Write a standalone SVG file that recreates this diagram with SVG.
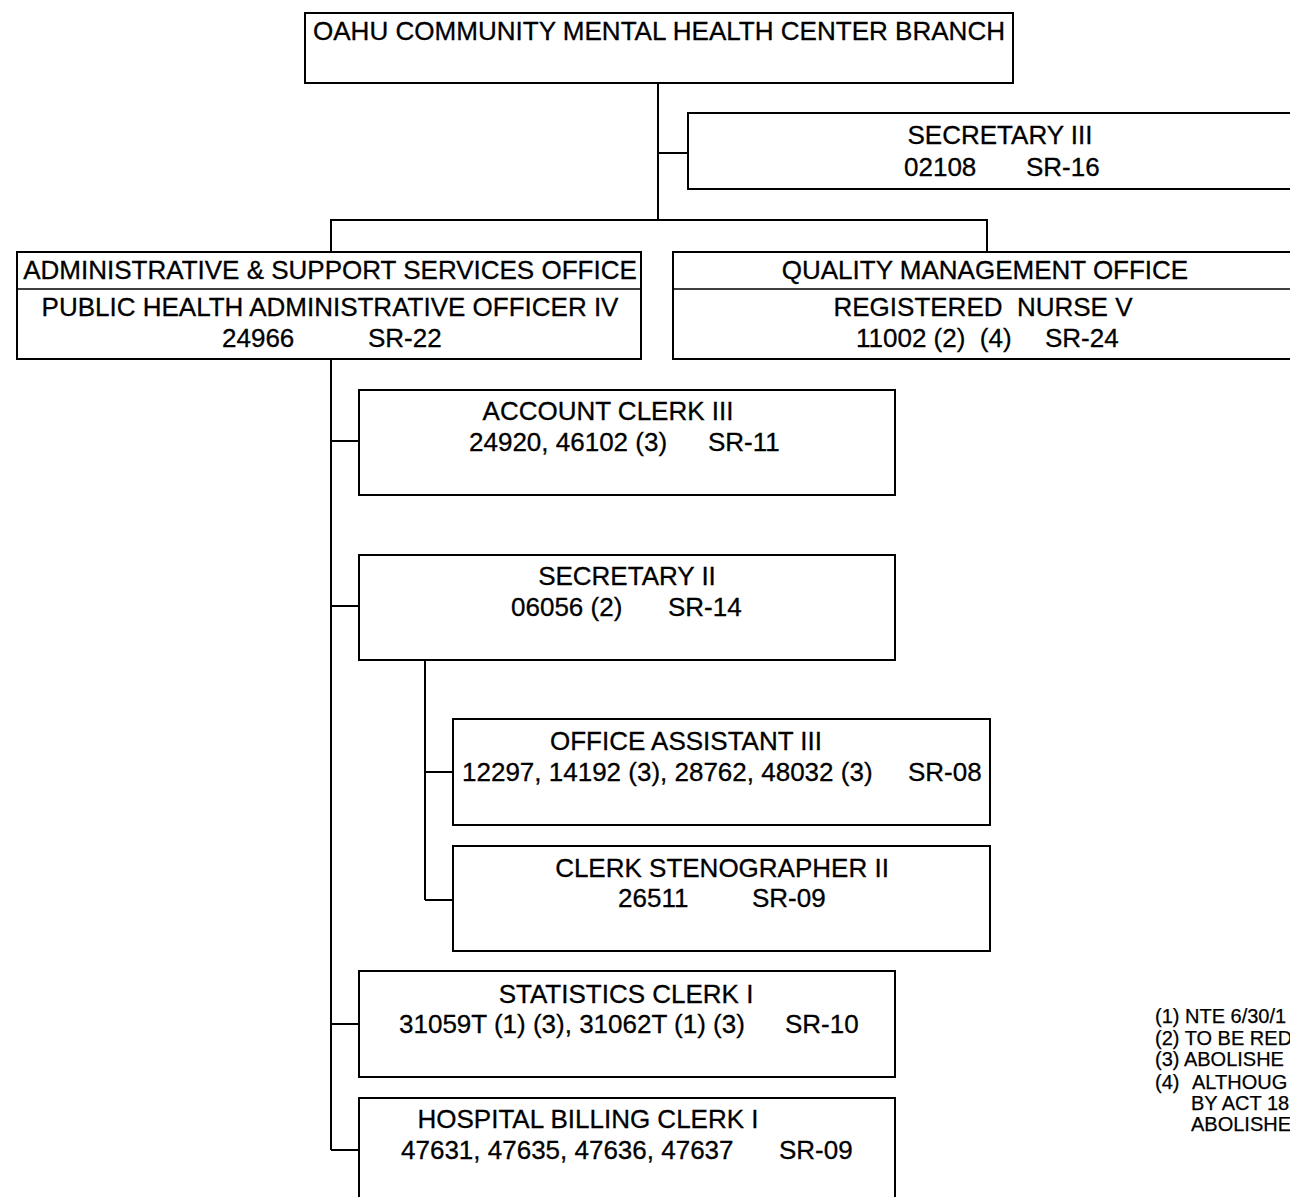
<svg xmlns="http://www.w3.org/2000/svg" width="1290" height="1197" viewBox="0 0 1290 1197">
  <style>
    .box { fill: #ffffff; stroke: #000000; stroke-width: 2; }
    .div { stroke: #000000; stroke-width: 1.5; }
    .wire { fill: none; stroke: #000000; stroke-width: 2; }
    text { font-family: "Liberation Sans", Arial, sans-serif; font-size: 26px; fill: #000000; stroke: #000000; stroke-width: 0.3; }
    .c { text-anchor: middle; }
    .note { font-size: 20px; stroke-width: 0.25; }
  </style>
  <rect width="1290" height="1197" fill="#ffffff"/>

  <!-- reporting lines -->
  <g id="connectors">
    <path class="wire" d="M658,83 V220 M658,153 H688"/>
    <path class="wire" d="M331,252 V220 H987 V252"/>
    <path class="wire" d="M331,359 V1150 M331,441 H359 M331,606 H359 M331,1024 H359 M331,1150 H359"/>
    <path class="wire" d="M425,660 V900 M425,772 H453 M425,900 H453"/>
  </g>

  <g id="branch">
    <rect class="box" x="305" y="13" width="708" height="70"/>
    <text x="313" y="40" textLength="692" lengthAdjust="spacingAndGlyphs">OAHU COMMUNITY MENTAL HEALTH CENTER BRANCH</text>
  </g>

  <g id="secretary-iii">
    <rect class="box" x="688" y="113" width="620" height="76"/>
    <text class="c" x="1000" y="144">SECRETARY III</text>
    <text x="904" y="176">02108</text>
    <text x="1026" y="176">SR-16</text>
  </g>

  <g id="admin-office">
    <rect class="box" x="17" y="252" width="624" height="107"/>
    <line class="div" x1="17" y1="289" x2="641" y2="289"/>
    <text class="c" x="330" y="279">ADMINISTRATIVE &amp; SUPPORT SERVICES OFFICE</text>
    <text class="c" x="330" y="316">PUBLIC HEALTH ADMINISTRATIVE OFFICER IV</text>
    <text x="222" y="347">24966</text>
    <text x="368" y="347">SR-22</text>
  </g>

  <g id="quality-office">
    <rect class="box" x="673" y="252" width="635" height="107"/>
    <line class="div" x1="673" y1="289" x2="1300" y2="289"/>
    <text class="c" x="985" y="279">QUALITY MANAGEMENT OFFICE</text>
    <text class="c" x="983" y="316" xml:space="preserve">REGISTERED  NURSE V</text>
    <text x="856" y="347" xml:space="preserve">11002 (2)  (4)</text>
    <text x="1045" y="347">SR-24</text>
  </g>

  <g id="account-clerk">
    <rect class="box" x="359" y="390" width="536" height="105"/>
    <text class="c" x="608" y="420">ACCOUNT CLERK III</text>
    <text x="469" y="451">24920, 46102 (3)</text>
    <text x="708" y="451">SR-11</text>
  </g>

  <g id="secretary-ii">
    <rect class="box" x="359" y="555" width="536" height="105"/>
    <text class="c" x="627" y="585">SECRETARY II</text>
    <text x="511" y="616">06056 (2)</text>
    <text x="668" y="616">SR-14</text>
  </g>

  <g id="office-assistant">
    <rect class="box" x="453" y="719" width="537" height="106"/>
    <text class="c" x="686" y="750">OFFICE ASSISTANT III</text>
    <text x="462" y="781">12297, 14192 (3), 28762, 48032 (3)</text>
    <text x="908" y="781">SR-08</text>
  </g>

  <g id="clerk-stenographer">
    <rect class="box" x="453" y="846" width="537" height="105"/>
    <text class="c" x="722" y="877">CLERK STENOGRAPHER II</text>
    <text x="618" y="907">26511</text>
    <text x="752" y="907">SR-09</text>
  </g>

  <g id="statistics-clerk">
    <rect class="box" x="359" y="971" width="536" height="106"/>
    <text class="c" x="626" y="1003">STATISTICS CLERK I</text>
    <text x="399" y="1033">31059T (1) (3), 31062T (1) (3)</text>
    <text x="785" y="1033">SR-10</text>
  </g>

  <g id="hospital-billing">
    <rect class="box" x="359" y="1098" width="536" height="110"/>
    <text class="c" x="588" y="1128">HOSPITAL BILLING CLERK I</text>
    <text x="401" y="1159">47631, 47635, 47636, 47637</text>
    <text x="779" y="1159">SR-09</text>
  </g>

  <g id="footnotes">
    <text class="note" x="1155" y="1023">(1) NTE 6/30/1</text>
    <text class="note" x="1155" y="1045">(2) TO BE RED</text>
    <text class="note" x="1155" y="1066">(3) ABOLISHE</text>
    <text class="note" x="1155" y="1089">(4)</text>
    <text class="note" x="1192" y="1089">ALTHOUG</text>
    <text class="note" x="1191" y="1110">BY ACT 18</text>
    <text class="note" x="1191" y="1131">ABOLISHE</text>
  </g>
</svg>
